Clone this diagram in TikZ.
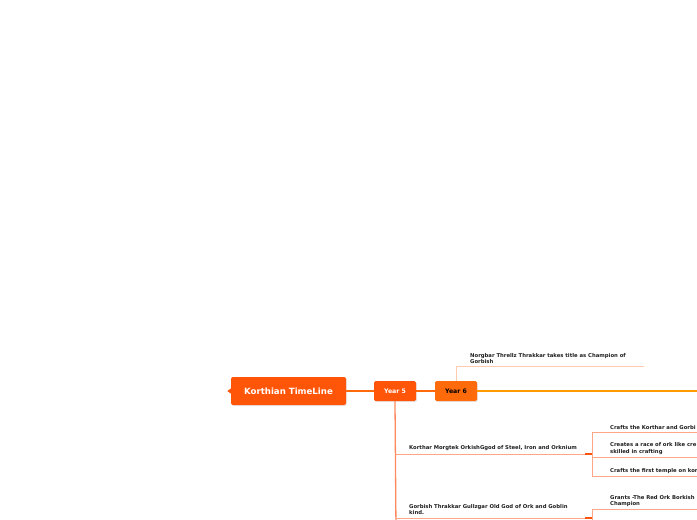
\documentclass[tikz,border=0pt]{standalone}
\usepackage{fontspec}
\setmainfont{DejaVu Sans}
\usepackage{tikz}
\usetikzlibrary{positioning, shadows}

\definecolor{rootred}{HTML}{FF5508}
\definecolor{yearorange}{HTML}{FF6A0A}
\definecolor{mainline}{HTML}{FF9A00}
\definecolor{peachline}{HTML}{FFCBAE}
\definecolor{salmonline}{HTML}{FF8A5E}
\definecolor{subline}{HTML}{FFA684}
\definecolor{inktext}{HTML}{1E1E1E}

\begin{document}
\begin{tikzpicture}[
            x = 1pt,
            y = -1pt,
            font = \bfseries,
            rootbox/.style = {draw = none, fill = rootred, rounded corners = 2pt,
                minimum width = 115pt, minimum height = 28pt, text = white,
                font = \fontsize{8.6}{10}\selectfont\bfseries,
                drop shadow = {opacity = 0.18, shadow xshift = 1pt, shadow yshift = -1pt}},
            yearbox/.style = {draw = none, fill = rootred, rounded corners = 1.5pt,
                minimum width = 42pt, minimum height = 20pt, text = white,
                font = \fontsize{6.2}{7}\selectfont\bfseries,
                drop shadow = {opacity = 0.18, shadow xshift = 1pt, shadow yshift = -1pt}},
            topic/.style = {inner sep = 0pt, anchor = south west, align = left,
                text = inktext, font = \fontsize{5.3}{6.2}\selectfont\bfseries},
            link/.style = {line width = 1pt, subline}
        ]

        \useasboundingbox (0,0) rectangle (697,520);
        \clip (0,0) rectangle (697,520);

        \node[rootbox] (root) at (288.5,391) {Korthian TimeLine};
        \fill[rootred] (root.west) ++(0,-2.5) -- ++(-3.5,2.5) -- ++(3.5,2.5) -- cycle;
        \node[yearbox] (y5) at (395,391) {Year 5};
        \node[yearbox, fill = yearorange, text = black] (y6) at (456,391) {Year 6};

        \coordinate (y6end) at (705,391);
        \coordinate (y5end) at (396,530);

        % year 6
        \node[topic] (norg) at (470,363.5)
            {Norgbar Threllz Thrakkar takes title as Champion of\\Gorbish};
        \coordinate (norgend) at (644,366);

        % year 5
        \coordinate (kor) at (396,454);
        \coordinate (korj) at (592,454);
        \node[topic] (kortxt) at (409,451) {Korthar Morgtek OrkishGgod of Steel, Iron and Orknium};
        \node[topic] (k1) at (610,429.5) {Crafts the Korthar and Gorbi};
        \node[topic] (k2) at (610,454.5)
            {Creates a race of ork like cre\\skilled in crafting};
        \node[topic] (k3) at (610,473.5) {Crafts the first temple on kor};
        \coordinate (k1end) at (705,432);
        \coordinate (k2end) at (705,457);
        \coordinate (k3end) at (705,476);

        \coordinate (gor) at (396,518);
        \coordinate (gorj) at (592,518);
        \node[topic] (gortxt) at (409,515)
            {Gorbish Thrakkar Gullzgar Old God of Ork and Goblin\\kind.};
        \node[topic] (g1) at (610,506.5)
            {Grants -The Red Ork Borkish\\Champion};
        \coordinate (g1end) at (705,509);
        \coordinate (gdown) at (592,530);

        \draw[line width = 1.2pt, yearorange] (root.east) -- (y5.west);
        \draw[line width = 1.2pt, yearorange] (y5.east) -- (y6.west);
        \draw[line width = 1.5pt, mainline] (y6.east) -- (y6end);
        \draw[line width = 1pt, peachline] (y6.north) |- (norgend);
        \draw[line width = 1.3pt, salmonline] (y5.south) -- (y5end);

        \draw[link] (kor) -- (korj);
        \draw[line width = 1.2pt, rootred] ([xshift = -7pt]korj) -- (korj);
        \draw[link] (korj) |- (k1end);
        \draw[link] (korj) |- (k2end);
        \draw[link] (korj) |- (k3end);

        \draw[link] (gor) -- (gorj);
        \draw[line width = 1.2pt, rootred] ([xshift = -7pt]gorj) -- (gorj);
        \draw[link] (gorj) |- (g1end);
        \draw[link] (gorj) -- (gdown);
\end{tikzpicture}
\end{document}
